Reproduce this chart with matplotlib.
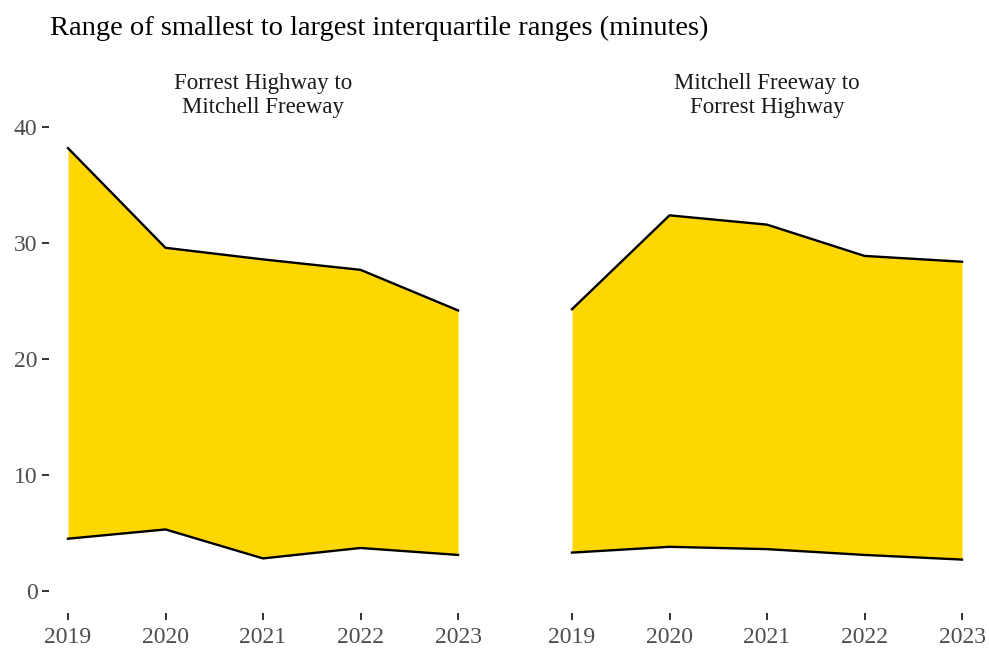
import matplotlib.pyplot as plt

years = [2019, 2020, 2021, 2022, 2023]

panels = ['Forrest Highway to\nMitchell Freeway', 'Mitchell Freeway to\nForrest Highway']

# smallest and largest interquartile range per year (minutes)
low_fh_mf = [4.5, 5.3, 2.8, 3.7, 3.1]
high_fh_mf = [38.2, 29.6, 28.6, 27.7, 24.2]
low_mf_fh = [3.3, 3.8, 3.6, 3.1, 2.7]
high_mf_fh = [24.3, 32.4, 31.6, 28.9, 28.4]

lows = [low_fh_mf, low_mf_fh]
highs = [high_fh_mf, high_mf_fh]

plt.rcParams['font.family'] = ['Liberation Serif', 'DejaVu Serif']

W, H = 989, 655
fig = plt.figure(figsize=(W / 100, H / 100), dpi=100)

# panel boxes in pixels: left, right, top, bottom
boxes = [(48.5, 477.5, 126, 613), (552.5, 981.5, 126, 613)]

for i, (l, r, t, b) in enumerate(boxes):
    ax = fig.add_axes([l / W, 1 - b / H, (r - l) / W, (b - t) / H])
    ax.fill_between(years, lows[i], highs[i], color='#FFD700', linewidth=0)
    ax.plot(years, highs[i], color='black', linewidth=1.7)
    ax.plot(years, lows[i], color='black', linewidth=1.7)
    ax.set_xlim(2018.8, 2023.2)
    ax.set_ylim(-1.91, 40.11)
    ax.set_xticks(years)
    ax.set_xticklabels([str(y) for y in years])
    for s in ax.spines.values():
        s.set_visible(False)
    ax.tick_params(axis='both', colors='#333333', labelcolor='#4D4D4D',
                   labelsize=17, length=5, width=1.4, pad=3)
    ax.tick_params(axis='x', pad=5)
    if i == 0:
        ax.set_yticks([0, 10, 20, 30, 40])
    else:
        ax.set_yticks([])
    ax.set_title(panels[i], fontsize=16.5, color='#1A1A1A', pad=9, linespacing=1.25)

fig.text(50 / W, 1 - 28 / H, 'Range of smallest to largest interquartile ranges (minutes)',
         fontsize=20.5, ha='left', va='center', color='black')

fig.savefig('out.png', dpi=100)
